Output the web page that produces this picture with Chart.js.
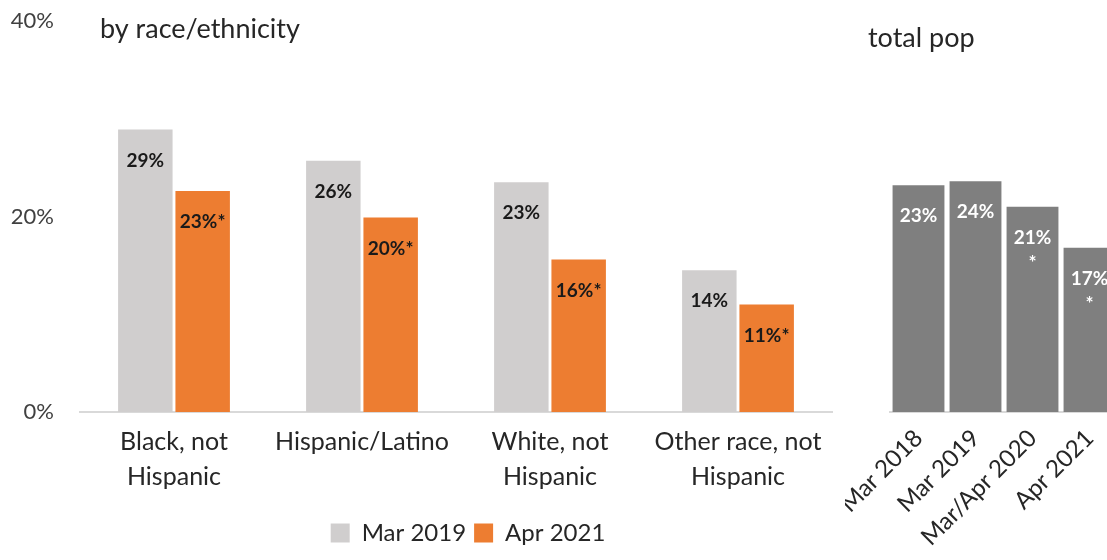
<!DOCTYPE html>
<html>
<head>
<meta charset="utf-8">
<script src="https://cdn.jsdelivr.net/npm/chart.js@4.4.1/dist/chart.umd.min.js"></script>
<style>
  html, body { margin: 0; padding: 0; background: #fff; overflow: hidden; }
  #wrap { position: relative; width: 1107px; height: 560px; overflow: hidden; }
  #left { position: absolute; left: 0; top: 0; }
  #right { position: absolute; left: 845px; top: 0; }
</style>
</head>
<body>
<div id="wrap">
  <canvas id="left" width="920" height="560"></canvas>
  <canvas id="right" width="300" height="560"></canvas>
</div>
<script>
// data
var raceCats = [['Black, not', 'Hispanic'], 'Hispanic/Latino', ['White, not', 'Hispanic'], ['Other race, not', 'Hispanic']];
var mar2019 = [28.9, 25.7, 23.5, 14.5];
var apr2021 = [22.6, 19.9, 15.6, 11.0];
var mar2019Labels = ['29%', '26%', '23%', '14%'];
var apr2021Labels = ['23%*', '20%*', '16%*', '11%*'];

var totalCats = ['Mar 2018', 'Mar 2019', 'Mar/Apr 2020', 'Apr 2021'];
var totalVals = [23.2, 23.6, 21.0, 16.8];
var totalLabels = [['23%'], ['24%'], ['21%', '*'], ['17%', '*']];

var yTicks = [0, 20, 40];

var FONT = 'Lato';

// draws the value text near the top inside each bar
var barText = {
    id: 'barText',
    afterDatasetsDraw: function(chart, args, opts) {
        var ctx = chart.ctx;
        ctx.save();
        ctx.textAlign = 'center';
        ctx.textBaseline = 'middle';
        ctx.font = 'bold 19px ' + FONT;
        chart.data.datasets.forEach(function(ds, i) {
            var meta = chart.getDatasetMeta(i);
            meta.data.forEach(function(bar, j) {
                var txt = ds.valueText[j];
                if (!Array.isArray(txt)) txt = [txt];
                ctx.fillStyle = ds.textColor;
                txt.forEach(function(line, k) {
                    ctx.fillText(line, bar.x, bar.y + 31 + k * 25);
                });
            });
        });
        ctx.restore();
    }
};

var heading = {
    id: 'heading',
    afterDraw: function(chart, args, opts) {
        var ctx = chart.ctx;
        ctx.save();
        ctx.font = '27px ' + FONT;
        ctx.fillStyle = '#262626';
        ctx.textBaseline = 'middle';
        ctx.textAlign = 'left';
        ctx.fillText(opts.text, opts.x, opts.y);
        ctx.restore();
    }
};

// legend sits under the left panel, a bit right of the canvas centre
var legendShift = {
    id: 'legendShift',
    afterLayout: function(chart, args, opts) {
        var lg = chart.legend;
        if (!lg) return;
        lg.left += opts.dx; lg.right += opts.dx;
        lg.top += opts.dy; lg.bottom += opts.dy;
    }
};

Chart.defaults.font.family = FONT;
Chart.defaults.color = '#262626';
Chart.defaults.animation = false;

new Chart(document.getElementById('left').getContext('2d'), {
    type: 'bar',
    data: {
        labels: raceCats,
        datasets: [
            {
                label: 'Mar 2019',
                data: mar2019,
                valueText: mar2019Labels,
                textColor: '#1a1a1a',
                backgroundColor: '#D0CECE',
                categoryPercentage: 0.61,
                barPercentage: 0.95
            },
            {
                label: 'Apr 2021',
                data: apr2021,
                valueText: apr2021Labels,
                textColor: '#1a1a1a',
                backgroundColor: '#ED7D31',
                categoryPercentage: 0.61,
                barPercentage: 0.95
            }
        ]
    },
    options: {
        responsive: false,
        layout: { padding: { top: 21, right: 88, bottom: 10, left: 0 } },
        scales: {
            x: {
                grid: { display: false },
                border: { display: true, color: '#D9D9D9', width: 2 },
                ticks: { font: { size: 25, lineHeight: 1.4 }, color: '#262626', padding: 4 },
                afterFit: function(s) { s.height = 96; }
            },
            y: {
                min: 0,
                max: 40,
                afterBuildTicks: function(s) { s.ticks = yTicks.map(function(v) { return { value: v }; }); },
                grid: { display: false },
                border: { display: false },
                ticks: {
                    font: { size: 22 },
                    color: '#404040',
                    padding: 18,
                    callback: function(v) { return v + '%'; }
                },
                afterFit: function(s) { s.width = 80; s.paddingTop = 0; s.paddingBottom = 0; }
            }
        },
        plugins: {
            legend: {
                position: 'bottom',
                labels: {
                    boxWidth: 19,
                    boxHeight: 19,
                    padding: 8,
                    font: { size: 24 },
                    color: '#262626'
                }
            },
            legendShift: { dx: 52, dy: 5 },
            tooltip: { enabled: false },
            heading: { text: 'by race/ethnicity', x: 100, y: 29 }
        }
    },
    plugins: [barText, heading, legendShift]
});

new Chart(document.getElementById('right').getContext('2d'), {
    type: 'bar',
    data: {
        labels: totalCats,
        datasets: [
            {
                label: 'total pop',
                data: totalVals,
                valueText: totalLabels,
                textColor: '#ffffff',
                backgroundColor: '#7F7F7F',
                categoryPercentage: 1,
                barPercentage: 0.91
            }
        ]
    },
    options: {
        responsive: false,
        layout: { padding: { top: 21, right: 27, bottom: 0, left: 45 } },
        scales: {
            x: {
                grid: { display: false },
                border: { display: true, color: '#D9D9D9', width: 2 },
                ticks: { font: { size: 24 }, color: '#262626', minRotation: 45, maxRotation: 45, padding: 4 },
                afterFit: function(s) { s.height = 148; s.paddingLeft = 0; s.paddingRight = 0; }
            },
            y: {
                display: false,
                min: 0,
                max: 40
            }
        },
        plugins: {
            legend: { display: false },
            tooltip: { enabled: false },
            heading: { text: 'total pop', x: 23, y: 38 }
        }
    },
    plugins: [barText, heading]
});
</script>
</body>
</html>
